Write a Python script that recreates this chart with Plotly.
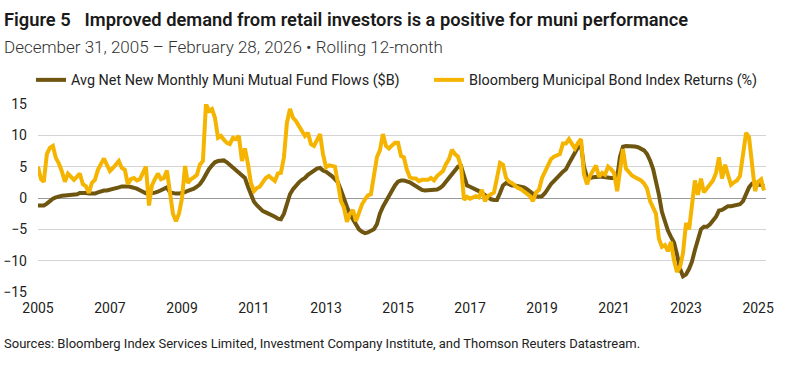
import pandas as pd
import plotly.graph_objects as go

# Monthly observations (first point plotted at the "2005" tick)
start_month = "2005-01-01"

fund_flows_bn = [
    -1.2, -1.2, -1.2, -0.9, -0.4, -0.1, 0.1, 0.3, 0.35, 0.4, 0.45, 0.5,
    0.5, 0.6, 0.8, 0.85, 0.8, 0.7, 0.65, 0.7, 0.9, 1.1, 1.2, 1.2,
    1.3, 1.35, 1.5, 1.7, 1.85, 1.9, 1.85, 1.75, 1.65, 1.5, 1.25, 1.0,
    0.75, 0.7, 0.7, 0.85, 1.0, 1.2, 1.4, 1.7, 0.9, 0.75, 0.7, 0.7,
    0.75, 0.95, 1.15, 1.3, 1.5, 1.8, 2.2, 2.9, 3.8, 4.6, 5.2, 5.7,
    5.9, 6.0, 6.0, 5.7, 5.3, 5.0, 4.6, 4.2, 3.8, 3.2, 1.8, 0.5,
    -0.6, -1.2, -1.7, -2.1, -2.3, -2.5, -2.7, -3.0, -3.3, -3.4, -2.5, -0.9,
    0.6, 1.4, 2.0, 2.5, 2.9, 3.2, 3.7, 4.1, 4.4, 4.7, 4.8, 4.4,
    4.2, 3.9, 3.5, 3.0, 2.5, 1.3, -0.3, -1.4, -2.6, -3.5, -4.3, -5.0,
    -5.4, -5.6, -5.5, -5.3, -5.0, -4.2, -2.5, -1.4, -0.5, 0.3, 1.0, 2.0,
    2.6, 2.8, 2.8, 2.7, 2.5, 2.2, 1.9, 1.6, 1.3, 1.2, 1.2, 1.2,
    1.25, 1.35, 1.6, 2.0, 2.6, 3.2, 3.8, 4.4, 5.0, 5.1, 3.5, 2.0,
    1.8, 1.6, 1.4, 1.1, 0.8, 0.4, 0.1, -0.2, -0.3, -0.3, 0.8, 2.0,
    2.4, 2.2, 2.0, 2.0, 1.9, 1.9, 1.7, 1.4, 1.0, 0.6, 0.3, 0.2,
    0.3, 0.8, 1.6, 2.2, 2.7, 3.3, 3.7, 4.2, 4.6, 5.5, 6.4, 7.3,
    8.1, 8.4, 5.0, 3.3, 3.2, 3.3, 3.4, 3.4, 3.4, 3.3, 3.3, 3.2,
    3.2, 3.2, 6.5, 8.2, 8.3, 8.3, 8.2, 8.2, 8.1, 7.9, 7.6, 7.0,
    6.0, 4.6, 2.9, 0.5, -2.2, -4.0, -5.2, -6.2, -7.1, -9.0, -11.3, -12.5,
    -12.2, -11.3, -10.2, -8.3, -6.5, -5.0, -4.6, -4.6, -4.2, -3.5, -3.0, -2.0,
    -1.9, -1.6, -1.3, -1.3, -1.2, -1.1, -1.0, -0.5, 0.6, 1.7, 2.3, 2.5,
    2.1, 2.1, 1.9,
]

index_returns_pct = [
    5.0, 3.0, 2.6, 7.0, 8.0, 8.3, 6.4, 5.5, 4.2, 2.6, 3.9, 3.5,
    2.9, 3.4, 3.9, 2.2, 1.9, 0.8, 2.4, 2.9, 4.5, 5.4, 6.3, 5.3,
    4.3, 4.8, 5.3, 5.9, 4.8, 4.5, 2.2, 3.0, 3.2, 2.8, 3.0, 4.0,
    5.0, -1.2, 2.0, 3.0, 3.9, 3.0, 3.2, 4.4, 0.5, -2.5, -3.7, -2.5,
    0.0, 5.1, 2.4, 3.0, 3.3, 3.7, 5.3, 5.9, 15.0, 13.9, 14.2, 12.8,
    9.6, 9.9, 9.3, 8.8, 8.6, 9.6, 9.4, 9.9, 5.9, 7.9, 5.4, 2.4,
    1.1, 1.6, 1.8, 2.4, 3.2, 3.5, 3.0, 2.7, 3.9, 4.0, 6.5, 12.0,
    14.2, 12.8, 12.3, 11.5, 11.0, 9.9, 10.4, 8.6, 8.3, 9.2, 10.2, 7.0,
    4.9, 5.2, 5.1, 5.0, 2.4, -0.5, -1.5, -3.8, -2.5, -1.9, -3.7, -2.4,
    -1.0, -0.2, 0.4, 0.6, 4.0, 6.5, 7.6, 10.2, 8.3, 7.9, 8.4, 8.8,
    8.8, 6.7, 6.5, 4.5, 3.3, 3.1, 3.1, 2.7, 2.9, 2.9, 2.9, 3.2,
    2.8, 3.5, 4.0, 4.3, 5.4, 6.2, 7.7, 7.0, 6.6, 5.0, -0.3, 0.2,
    -0.1, 0.2, 0.3, 0.1, 1.3, -0.5, 0.3, 0.6, 0.9, 3.2, 5.6, 5.3,
    3.2, 2.6, 2.4, 2.0, 1.6, 1.4, 1.1, 0.7, 0.3, -0.5, 0.9, 1.3,
    3.2, 4.2, 5.1, 6.2, 6.6, 6.8, 7.0, 8.7, 8.7, 9.4, 8.5, 7.9,
    8.8, 9.4, 3.8, 2.2, 3.5, 4.3, 5.2, 3.4, 4.0, 3.7, 5.0, 4.6,
    4.0, 1.1, 4.6, 7.8, 4.7, 4.0, 3.6, 3.3, 3.0, 2.8, 2.3, 1.5,
    -0.5, -1.5, -2.5, -6.5, -7.8, -7.5, -8.5, -7.0, -10.0, -11.8, -11.0, -8.8,
    -4.0, -5.0, -1.5, 2.8, 0.5, 3.1, 0.9, 1.6, 2.2, 2.8, 4.0, 6.5,
    3.1, 5.3, 3.7, 2.1, 2.5, 2.8, 3.5, 6.5, 10.4, 9.7, 5.4, 1.1,
    2.6, 3.0, 1.2,
]

months = pd.date_range(start_month, periods=len(index_returns_pct), freq="MS")

year_ticks = [str(y) for y in range(2005, 2026, 2)]
y_ticks = [-15, -10, -5, 0, 5, 10, 15]

series_names = [
    "Avg Net New Monthly Muni Mutual Fund Flows ($B)",
    "Bloomberg Municipal Bond Index Returns (%)",
]

title_text = "Figure 5\u2002 Improved demand from retail investors is a positive for muni performance"
subtitle_text = "December 31, 2005 \u2013 February 28, 2026 \u2022 Rolling 12-month"
source_text = ("Sources: Bloomberg Index Services Limited, Investment Company Institute, "
               "and Thomson Reuters Datastream.")

BROWN = "#6E5510"
GOLD = "#F4B400"
FONT = "Roboto, 'Noto Sans', sans-serif"
W, H = 793, 366
L, R, T, B = 38, 27, 104, 74
PW, PH = W - L - R, H - T - B


def px_x(x):
    return (x - L) / PW


def px_y(y):
    return (H - B - y) / PH


fig = go.Figure()
fig.add_trace(go.Scatter(x=months, y=fund_flows_bn, mode="lines", name=series_names[0],
                         line=dict(color=BROWN, width=4), legend="legend"))
fig.add_trace(go.Scatter(x=months, y=index_returns_pct, mode="lines", name=series_names[1],
                         line=dict(color=GOLD, width=4), legend="legend2"))

legend_common = dict(orientation="h", xref="container", yref="container",
                     xanchor="left", y=1 - 80 / H, yanchor="middle",
                     font=dict(family=FONT, size=14.4, color="#222222"),
                     bgcolor="rgba(0,0,0,0)", borderwidth=0)

fig.update_layout(
    width=W, height=H,
    margin=dict(l=L, r=R, t=T, b=B, autoexpand=False),
    paper_bgcolor="white", plot_bgcolor="white",
    font=dict(family=FONT, color="#222222", size=14),
    showlegend=True,
    legend=dict(x=31 / W, **legend_common),
    legend2=dict(x=429 / W, **legend_common),
    xaxis=dict(type="date", range=["2005-01-01", "2025-03-22"],
               tickvals=[pd.Timestamp(y + "-01-01") for y in year_ticks],
               ticktext=year_ticks,
               showgrid=False, zeroline=False, showline=False, ticks="",
               tickfont=dict(size=14, color="#222222"), ticklabelstandoff=6),
    yaxis=dict(range=[-15, 15], tickvals=y_ticks,
               showgrid=True, gridcolor="#d4d4d4", gridwidth=1,
               zeroline=True, zerolinecolor="#9a9a9a", zerolinewidth=1,
               showline=False, ticks="",
               tickfont=dict(size=14, color="#222222"), ticklabelstandoff=10),
    annotations=[
        dict(text=title_text, xref="paper", yref="paper", showarrow=False,
             x=px_x(2), xanchor="left", y=px_y(19), yanchor="middle",
             font=dict(family=FONT, size=18.3, color="#1a1a1a", weight=600)),
        dict(text=subtitle_text, xref="paper", yref="paper", showarrow=False,
             x=px_x(2), xanchor="left", y=px_y(47), yanchor="middle",
             font=dict(family=FONT, size=17, color="#333333", weight=300)),
        dict(text=source_text, xref="paper", yref="paper", showarrow=False,
             x=px_x(2), xanchor="left", y=px_y(343), yanchor="middle",
             font=dict(family=FONT, size=13, color="#222222")),
    ],
)

fig.write_html("out.html", config={"displayModeBar": False},
               post_script="document.body.style.margin='0';")
